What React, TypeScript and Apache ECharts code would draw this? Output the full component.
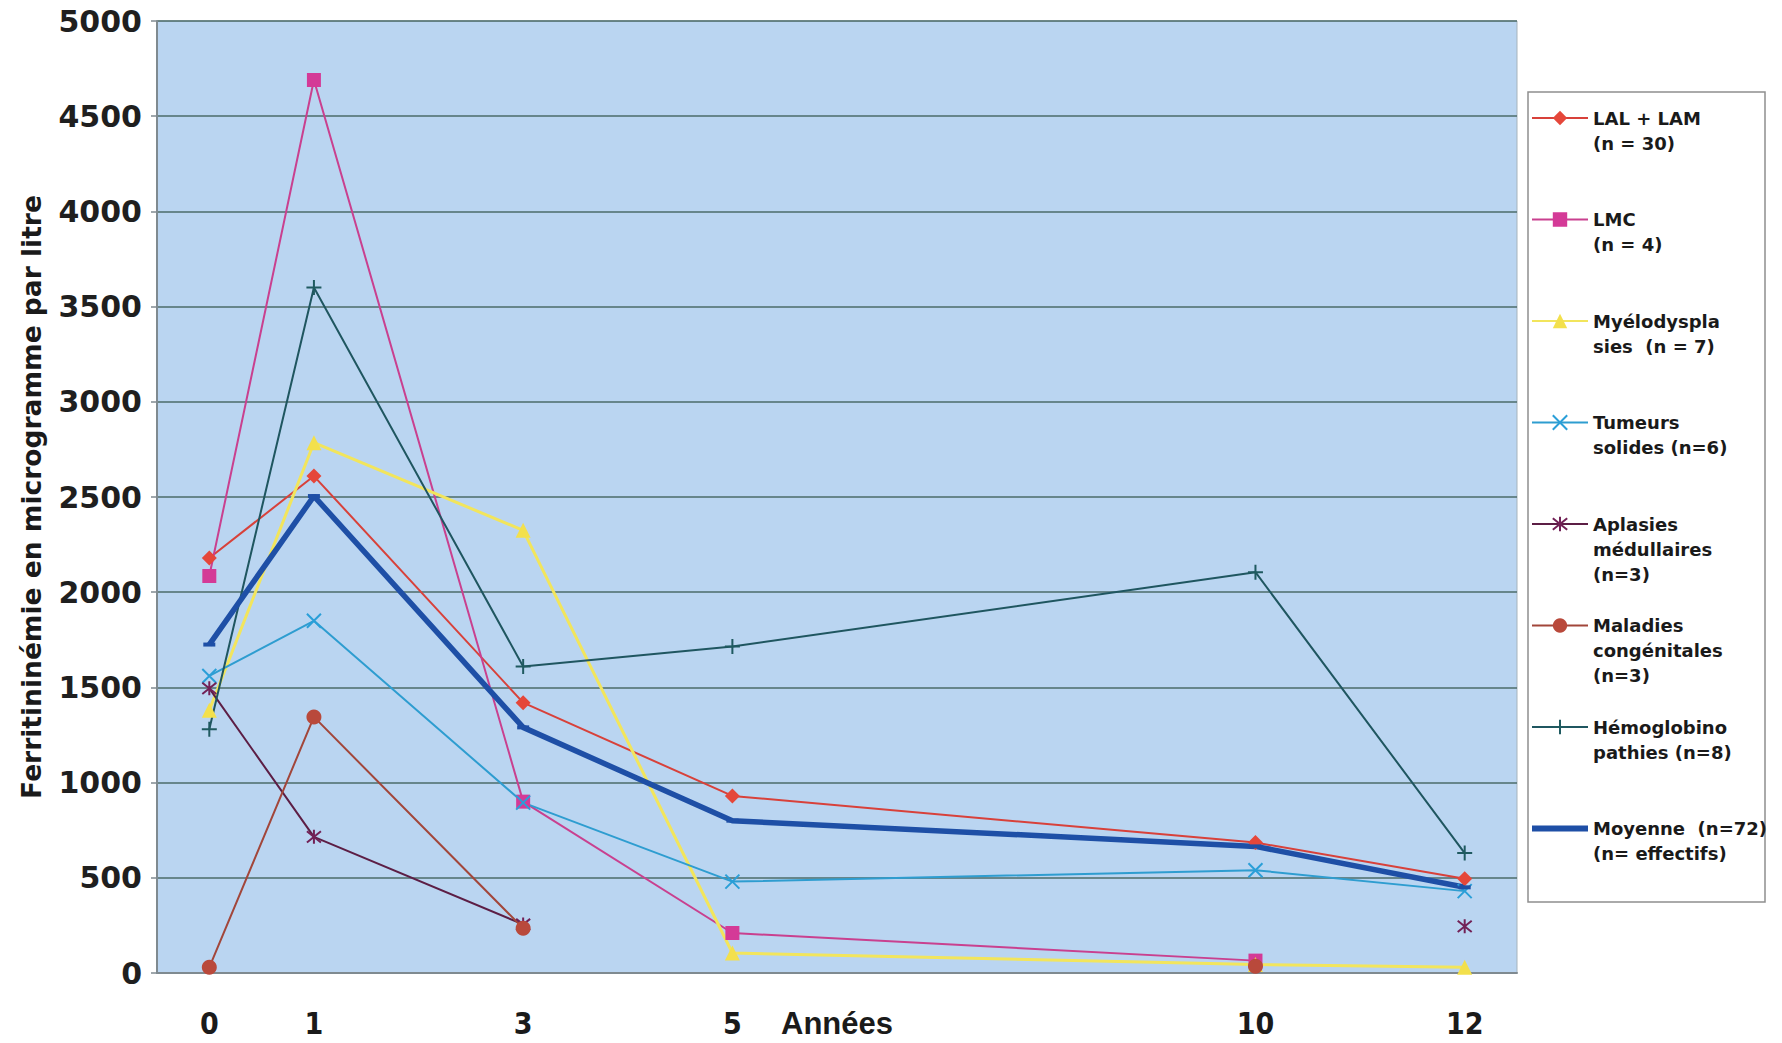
import React, { useEffect, useRef } from "react";
import * as echarts from "echarts";

// ---- data ----
const years = [0, 1, 3, 5, 10, 12];

const lalLam = [2180, 2610, 1420, 930, 685, 495];
const lmc = [2085, 4690, 900, 210, 65, null];
const myelo = [1380, 2785, 2325, 105, 45, 30];
const tumeurs = [1560, 1850, 895, 480, 540, 430];
const aplasies = [1495, 715, 255, null, null, 245];
const maladies = [30, 1345, 235, null, 35, null];
const hemo = [1280, 3600, 1610, 1715, 2105, 630];
const moyenne = [1725, 2505, 1290, 800, 665, 450];

const legendLines: string[][] = [
  ["LAL + LAM", "(n = 30)"],
  ["LMC", "(n = 4)"],
  ["Myélodyspla", "sies  (n = 7)"],
  ["Tumeurs", "solides (n=6)"],
  ["Aplasies", "médullaires", "(n=3)"],
  ["Maladies", "congénitales", "(n=3)"],
  ["Hémoglobino", "pathies (n=8)"],
  ["Moyenne  (n=72)", "(n= effectifs)"],
];
const seriesNames = legendLines.map((l) => l.join(" "));

const Y_MIN = 0;
const Y_MAX = 5000;
const Y_STEP = 500;
const yAxisTitle = "Ferritininémie en microgramme par litre";
const xAxisTitle = "Années";

const CROSS = "path://M0 0L10 10M10 0L0 10";
const STAR = "path://M1 1L9 9M9 1L1 9M5 0V10";
const PLUS = "path://M5 0V10M0 5H10";

type Vals = (number | null)[];

function makeSeries(
  idx: number,
  values: Vals,
  color: string,
  lineColor: string,
  symbol: string,
  size: number | number[],
  width: number,
  stroked: boolean
) {
  return {
    type: "line",
    name: seriesNames[idx],
    data: years.map((x, i) => [x, values[i] == null ? "-" : values[i]]),
    symbol,
    symbolSize: size,
    showSymbol: true,
    connectNulls: false,
    lineStyle: { color: lineColor, width },
    itemStyle: {
      color,
      borderColor: color,
      borderWidth: stroked ? 2 : 0,
    },
    emphasis: { disabled: true },
    silent: true,
  };
}

export default function App() {
  const ref = useRef<HTMLDivElement>(null);

  useEffect(() => {
    if (!ref.current) return;
    const chart = echarts.init(ref.current, undefined, { renderer: "svg" });

    const series = [
      makeSeries(0, lalLam, "#E5473A", "#D8413A", "diamond", 15, 2, false),
      makeSeries(1, lmc, "#D43A97", "#C9408F", "rect", 14, 2, false),
      makeSeries(2, myelo, "#F3E04C", "#F2E55C", "triangle", 15, 3, false),
      makeSeries(3, tumeurs, "#2A9FD8", "#2E9DD0", CROSS, 14, 2, true),
      makeSeries(4, aplasies, "#722156", "#5C1E45", STAR, 14, 2, true),
      makeSeries(5, maladies, "#B9493B", "#A2463A", "circle", 15, 2, false),
      makeSeries(6, hemo, "#1F5A60", "#1F5660", PLUS, 15, 2, true),
      makeSeries(7, moyenne, "#1E4FA6", "#1E4FA6", "rect", [12, 4], 5.5, false),
    ];

    const option: any = {
      animation: false,
      backgroundColor: "#ffffff",
      textStyle: { fontFamily: "Liberation Sans" },
      grid: {
        left: 157,
        top: 21,
        width: 1360,
        height: 952,
        show: true,
        backgroundColor: "#BAD5F1",
        borderColor: "#a7b3bb",
        borderWidth: 1,
        containLabel: false,
        outerBoundsMode: "none",
      },
      xAxis: {
        type: "value",
        min: -0.5,
        max: 12.5,
        axisLine: { show: true, onZero: false, lineStyle: { color: "#7f8a90", width: 2 } },
        axisTick: { show: false },
        splitLine: { show: false },
        axisLabel: {
          customValues: years,
          margin: 35,
          fontFamily: "'Liberation Sans Narrow', 'DejaVu Sans Condensed', 'Liberation Sans', sans-serif",
          fontSize: 30,
          fontWeight: "bold",
          color: "#1a1a1a",
        },
        name: xAxisTitle,
        nameLocation: "middle",
        nameGap: 35,
        nameMoveOverlap: false,
        nameTextStyle: {
          fontFamily: "Liberation Sans",
          fontSize: 31,
          fontWeight: "bold",
          color: "#1a1a1a",
          verticalAlign: "top",
        },
      },
      yAxis: {
        type: "value",
        min: Y_MIN,
        max: Y_MAX,
        interval: Y_STEP,
        axisLine: { show: true, onZero: false, lineStyle: { color: "#7f8a90", width: 2 } },
        axisTick: { show: true, length: 6, lineStyle: { color: "#7f8a90", width: 1.5 } },
        splitLine: { show: true, lineStyle: { color: "#4b6b69", width: 1.5 } },
        axisLabel: {
          margin: 15,
          fontFamily: "DejaVu Sans",
          fontSize: 30,
          fontWeight: "bold",
          color: "#1f1f1f",
          formatter: (v: number) => String(v),
        },
        name: yAxisTitle,
        nameLocation: "middle",
        nameGap: 112,
        nameMoveOverlap: false,
        nameTextStyle: {
          fontFamily: "DejaVu Sans",
          fontSize: 26.5,
          fontWeight: "bold",
          color: "#1a1a1a",
        },
      },
      legend: {
        orient: "vertical",
        left: 1531,
        top: 55.5,
        padding: 0,
        itemWidth: 56,
        itemHeight: 18,
        itemGap: -23.5,
        selectedMode: false,
        data: seriesNames.map((n, i) =>
          i === 7 ? { name: n, icon: "path://M0 0H56V6H0Z" } : { name: n }
        ),
        formatter: (name: string) => {
          const lines = legendLines[seriesNames.indexOf(name)];
          if (lines.length === 3) return " \n \n" + lines.join("\n");
          return " \n \n" + lines.join("\n") + "\n ";
        },
        textStyle: {
          fontFamily: "DejaVu Sans",
          fontWeight: "bold",
          fontSize: 18,
          lineHeight: 25,
          color: "#1a1a1a",
        },
      },
      graphic: [
        {
          type: "rect",
          z: 0,
          silent: true,
          shape: { x: 1528, y: 92, width: 237, height: 810 },
          style: { fill: "#ffffff", stroke: "#8f8f8f", lineWidth: 1.5 },
        },
      ],
      series,
    };

    chart.setOption(option);
    return () => chart.dispose();
  }, []);

  return (
    <div
      ref={ref}
      style={{ position: "absolute", left: 0, top: 0, width: 1782, height: 1043 }}
    />
  );
}
